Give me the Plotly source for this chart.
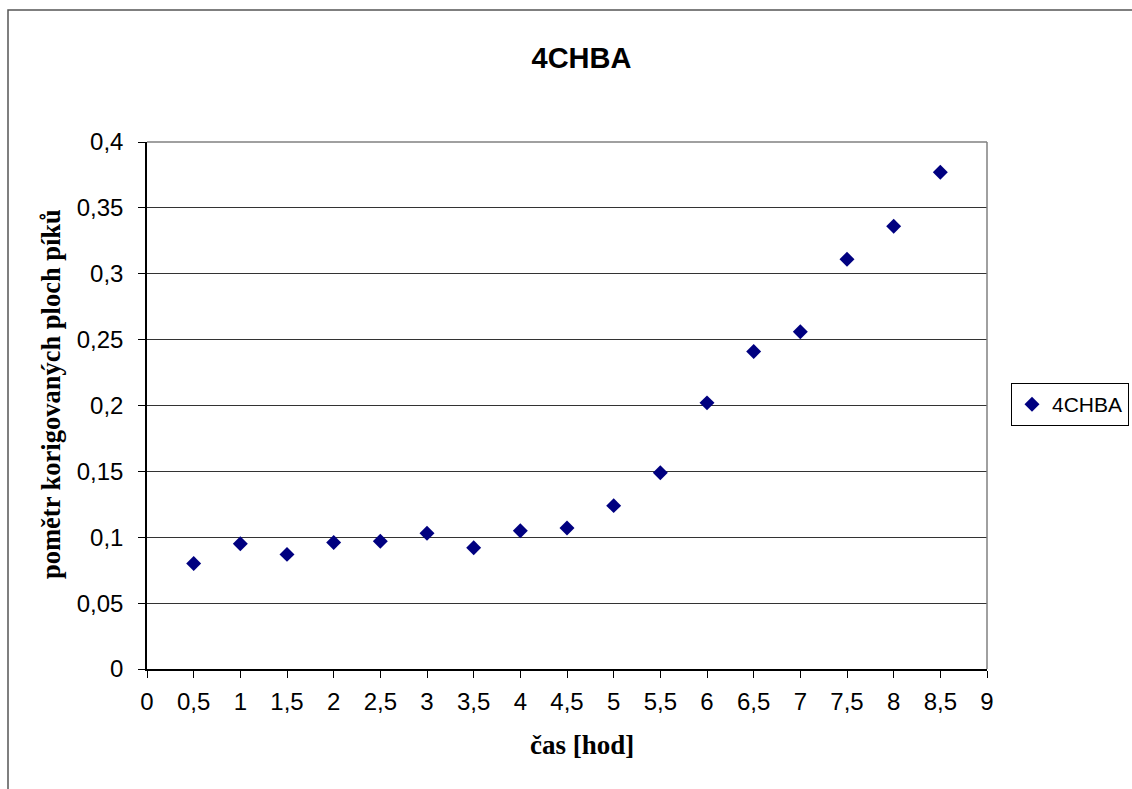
import plotly.graph_objects as go

# time [h] and corrected peak-area ratio for 4CHBA
cas_hod = [0.5, 1, 1.5, 2, 2.5, 3, 3.5, 4, 4.5, 5, 5.5, 6, 6.5, 7, 7.5, 8, 8.5]
pomer = [0.080, 0.095, 0.087, 0.096, 0.097, 0.103, 0.092, 0.105, 0.107,
         0.124, 0.149, 0.202, 0.241, 0.256, 0.311, 0.336, 0.377]

x_tickvals = [0, 0.5, 1, 1.5, 2, 2.5, 3, 3.5, 4, 4.5, 5, 5.5, 6, 6.5, 7, 7.5, 8, 8.5, 9]
x_ticktext = ["0", "0,5", "1", "1,5", "2", "2,5", "3", "3,5", "4", "4,5", "5",
              "5,5", "6", "6,5", "7", "7,5", "8", "8,5", "9"]
y_tickvals = [0, 0.05, 0.1, 0.15, 0.2, 0.25, 0.3, 0.35, 0.4]
y_ticktext = ["0", "0,05", "0,1", "0,15", "0,2", "0,25", "0,3", "0,35", "0,4"]

W, H = 1132, 789
L, R, T, B = 147, 145, 142, 120
pw, ph = W - L - R, H - T - B


def px_x(p):
    return (p - L) / pw


def px_y(p):
    return (H - B - p) / ph


sans = "Liberation Sans, Arial, sans-serif"
serif = "Liberation Serif, Times New Roman, serif"

fig = go.Figure()
fig.add_trace(go.Scatter(
    x=cas_hod, y=pomer, mode="markers", name="4CHBA",
    marker=dict(symbol="diamond", size=11.5, color="#000080",
                line=dict(width=0)),
))

fig.update_layout(
    width=W, height=H,
    margin=dict(l=L, r=R, t=T, b=B, autoexpand=False),
    paper_bgcolor="white", plot_bgcolor="white",
    title=dict(text="<b>4CHBA</b>", font=dict(family=sans, size=29, color="black"),
               xref="paper", x=px_x(581.5), xanchor="center",
               yref="container", y=1 - 57.5 / H, yanchor="middle"),
    showlegend=True,
    legend=dict(x=px_x(1011), xanchor="left", y=px_y(404.5), yanchor="middle",
                bordercolor="black", borderwidth=1, bgcolor="white",
                font=dict(family=sans, size=21, color="black"),
                itemwidth=30, tracegroupgap=0),
    xaxis=dict(range=[0, 9], tickvals=x_tickvals, ticktext=x_ticktext,
               showgrid=False, zeroline=False,
               showline=True, linecolor="black", linewidth=1.5,
               ticks="outside", ticklen=7, tickcolor="black", tickwidth=1,
               tickfont=dict(family=sans, size=24, color="black"),
               ticklabelstandoff=3),
    yaxis=dict(range=[0, 0.4], tickvals=y_tickvals, ticktext=y_ticktext,
               showgrid=True, gridcolor="#333333", gridwidth=1,
               zeroline=False,
               showline=True, linecolor="black", linewidth=1.5,
               ticks="outside", ticklen=7, tickcolor="black", tickwidth=1,
               tickfont=dict(family=sans, size=24, color="black"),
               ticklabelstandoff=10),
    annotations=[
        dict(text="<b>čas [hod]</b>", xref="paper", yref="paper",
             x=px_x(582), y=px_y(745), xanchor="center", yanchor="middle",
             showarrow=False, font=dict(family=serif, size=27, color="black")),
        dict(text="<b>pomětr korigovaných ploch píků</b>", xref="paper", yref="paper",
             x=px_x(51), y=px_y(394), xanchor="center", yanchor="middle",
             textangle=-90, showarrow=False,
             font=dict(family=serif, size=26.5, color="black")),
    ],
    shapes=[
        # gray plot-area border on top and right
        dict(type="line", xref="paper", yref="paper", x0=0, x1=1, y0=1, y1=1,
             line=dict(color="#808080", width=1.5), layer="above"),
        dict(type="line", xref="paper", yref="paper", x0=1, x1=1, y0=0, y1=1,
             line=dict(color="#808080", width=1.5), layer="above"),
        # outer chart-area frame
        dict(type="rect", xref="paper", yref="paper",
             x0=px_x(8), x1=px_x(W + 20), y0=px_y(H + 20), y1=px_y(10),
             line=dict(color="#555555", width=1.5), layer="below"),
    ],
)

fig.write_html("out.html")
